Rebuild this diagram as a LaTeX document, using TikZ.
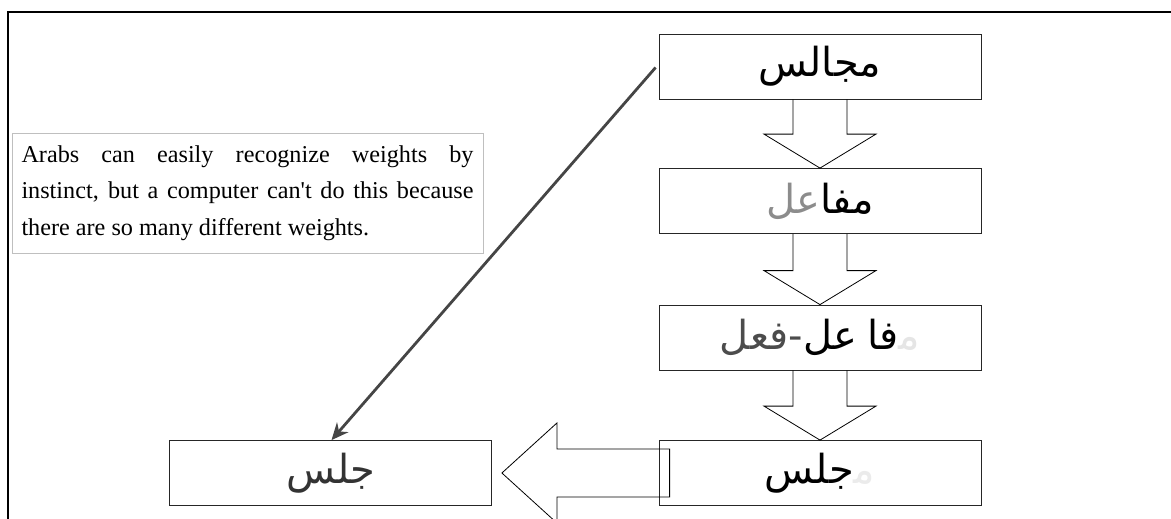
\documentclass[tikz,border=0pt]{standalone}
\usepackage{fontspec}
\setmainfont{Liberation Serif}
\newfontfamily\arabicfont[Script=Arabic]{DejaVu Sans}
\TeXXeTstate=1
\usetikzlibrary{arrows.meta,calc,shadows}

\definecolor{linkgray}{HTML}{454545}
\newcommand{\zwj}{^^^^200d}
% one right-to-left run, in a colour of its own
\newcommand{\rl}[2]{{\color{#1}\beginR #2\endR}}

\tikzset{
  wordbox/.style={draw=black!85, line width=0.8pt, minimum width=322pt,
    minimum height=65pt, inner sep=0pt, font=\arabicfont\fontsize{40}{46}\selectfont},
  blockarrow/.style={draw=black, line width=0.8pt},
  notebox/.style={draw=black!25, line width=1pt, text width=452pt, align=justify,
    inner xsep=9.5pt, minimum height=120pt, font=\fontsize{24.2}{36.5}\selectfont,
    drop shadow={opacity=0.2, shadow xshift=1.2pt, shadow yshift=-1.2pt}, fill=white},
  linkarrow/.style={draw=linkgray, line width=2.8pt, -{Stealth[length=17pt,width=15pt]}},
}

% hollow arrow from the bottom of #1 down to the top of #2
\newcommand{\downblock}[2]{%
  \draw[blockarrow] ($(#1.south)+(-27,0)$) -- ($(#2.north)+(-27,-34)$)
    -- ($(#2.north)+(-56,-34)$) -- (#2.north) -- ($(#2.north)+(56,-34)$)
    -- ($(#2.north)+(27,-34)$) -- ($(#1.south)+(27,0)$);
}

\begin{document}
\begin{tikzpicture}[x=1pt, y=-1pt]
\useasboundingbox (0,0) rectangle (1171,519);

% frame
\draw[line width=2pt] (8,519) -- (8,12) -- (1171,12);

% the word boxes (runs written left to right as they stand on the page)
\node[wordbox] (majalis) at (820,66.5) {\rl{black}{مجالس}};
\node[wordbox] (mafaal) at (820,201) {\rl{black!45}{عل}\rl{black}{مفا}};
\node[wordbox] (faal) at (820,337.5) {\rl{black!70}{فعل}{\color{black!70}-}\rl{black}{عل}\hspace{10pt}\rl{black}{فا}\rl{black!10}{م\zwj}};
\node[wordbox] (jls) at (820,473) {\rl{black}{جلس}\rl{black!8}{م\zwj}};
\node[wordbox] (jalasa) at (330.5,473) {\rl{black!80}{جلس}};

% note
\node[notebox] (note) at (247.5,193) {Arabs can easily recognize weights by\linebreak instinct, but a computer can\textquotesingle t do this because\linebreak there are so many different weights.};

% hollow arrows
\downblock{majalis}{mafaal}
\downblock{mafaal}{faal}
\downblock{faal}{jls}

\draw[blockarrow] ($(jls.west)+(11,-24)$) -- ($(jalasa.east)+(65,-24)$)
  -- ($(jalasa.east)+(65,-50)$) -- ($(jalasa.east)+(10,0)$)
  -- ($(jalasa.east)+(65,50)$) -- ($(jalasa.east)+(65,24)$)
  -- ($(jls.west)+(11,24)$) -- cycle;

% direct link
\draw[linkarrow] ($(majalis.west)+(-3,1)$) -- ($(jalasa.north)+(1,0)$);

\end{tikzpicture}
\end{document}
